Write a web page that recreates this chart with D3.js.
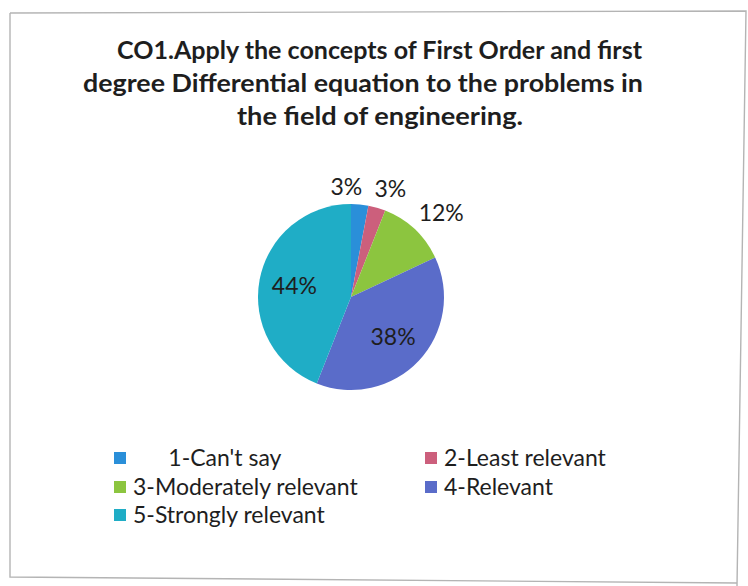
<!DOCTYPE html>
<html>
<head>
<meta charset="utf-8">
<script src="https://cdn.jsdelivr.net/npm/d3@7"></script>
<style>
  html, body { margin: 0; padding: 0; background: #ffffff; }
  svg { display: block; }
  text { font-family: Lato, "Open Sans", sans-serif; fill: #1e1e1e; }
</style>
</head>
<body>
<svg id="chart" width="748" height="586"></svg>
<script>
// Survey responses for CO1
const categories = ["      1-Can't say", "2-Least relevant", "3-Moderately relevant", "4-Relevant", "5-Strongly relevant"];
const values = [3, 3, 12, 38, 44];
const colors = ["#2a8fd9", "#cc5f7c", "#8cc53f", "#5a6cc9", "#1fadc6"];
const titleLines = [
  "CO1.Apply the concepts of First Order and first",
  "degree Differential equation to the problems in",
  "the field of engineering."
];

const svg = d3.select("#chart");

// Chart frame
svg.append("path")
  .attr("d", "M10,13 L746,11 L737,586 M10,13 L10,577 L737,583")
  .attr("fill", "none")
  .attr("stroke", "#b4b4b4")
  .attr("stroke-width", 1.4);

// Title
const titleStarts = [117, 83, 237];
const titleWidths = [525, 560, 286];
svg.append("g").selectAll("text")
  .data(titleLines)
  .join("text")
  .attr("x", (d, i) => titleStarts[i])
  .attr("y", (d, i) => 59 + i * 33)
  .attr("font-size", 25)
  .attr("font-weight", 700)
  .attr("textLength", (d, i) => titleWidths[i])
  .attr("lengthAdjust", "spacingAndGlyphs")
  .text(d => d);

// Pie
const cx = 351, cy = 297, r = 93;
const pie = d3.pie().sort(null).value(d => d.value);
const arcs = pie(values.map((v, i) => ({ value: v, i })));
const arc = d3.arc().innerRadius(0).outerRadius(r);

const g = svg.append("g").attr("transform", `translate(${cx},${cy})`);
g.selectAll("path")
  .data(arcs)
  .join("path")
  .attr("d", arc)
  .attr("fill", d => colors[d.data.i]);

// Data labels: large slices inside, small slices outside
const fmt = d => d + "%";
const labelSize = 23;
const labels = arcs.map(a => {
  const mid = (a.startAngle + a.endAngle) / 2;
  return { text: fmt(a.data.value), angle: mid, inside: a.data.value >= 20 };
});

const gl = svg.append("g");
const nodes = gl.selectAll("text")
  .data(labels)
  .join("text")
  .attr("font-size", labelSize)
  .attr("text-anchor", "middle")
  .attr("dy", "0.35em")
  .attr("fill", d => d.inside ? "#262a40" : "#1e1e1e")
  .text(d => d.text);

nodes.each(function (d) {
  d.w = this.getComputedTextLength();
  d.h = labelSize * 0.85;
});

const gap = 7;
function outsidePos(d) {
  const s = Math.sin(d.angle), c = Math.cos(d.angle);
  const dist = r + gap + (d.w / 2) * Math.abs(s) + (d.h / 2) * Math.abs(c);
  return [cx + dist * s, cy - dist * c];
}

// Spread neighbouring outside labels until their boxes no longer collide
const outside = labels.filter(d => !d.inside).sort((a, b) => a.angle - b.angle);
const pad = 12;
for (let it = 0; it < 400; it++) {
  let moved = false;
  for (let k = 0; k < outside.length - 1; k++) {
    const a = outside[k], b = outside[k + 1];
    const [ax, ay] = outsidePos(a), [bx, by] = outsidePos(b);
    const ox = (a.w + b.w) / 2 + pad - Math.abs(ax - bx);
    const oy = (a.h + b.h) / 2 + pad - Math.abs(ay - by);
    if (ox > 0 && oy > 0) {
      a.angle -= 0.004;
      b.angle += 0.004;
      moved = true;
    }
  }
  if (!moved) break;
}

nodes.each(function (d) {
  let x, y;
  if (d.inside) {
    x = cx + r * 0.62 * Math.sin(d.angle);
    y = cy - r * 0.62 * Math.cos(d.angle);
  } else {
    [x, y] = outsidePos(d);
  }
  d3.select(this).attr("x", x).attr("y", y);
});

// Legend: two columns, filled row by row
const legendCols = [114, 425];
const legendRows = [458, 487, 515];
const legend = svg.append("g");
const items = legend.selectAll("g")
  .data(categories)
  .join("g")
  .attr("transform", (d, i) => `translate(${legendCols[i % 2]},${legendRows[Math.floor(i / 2)]})`);
items.append("rect")
  .attr("x", 0).attr("y", -6)
  .attr("width", 12).attr("height", 12)
  .attr("fill", (d, i) => colors[i]);
items.append("text")
  .attr("x", 19)
  .attr("dy", "0.35em")
  .attr("font-size", 23)
  .style("white-space", "pre")
  .text(d => d);
</script>
</body>
</html>
